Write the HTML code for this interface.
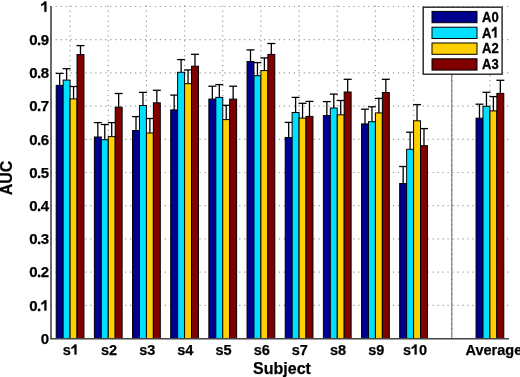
<!DOCTYPE html>
<html><head><meta charset="utf-8"><style>
html,body{margin:0;padding:0;background:#fff;width:520px;height:377px;overflow:hidden}
svg{display:block;will-change:transform}
.g{stroke:#999;stroke-width:1.2;stroke-dasharray:1.2 3.76}
.sep{stroke:#808080;stroke-width:1.2}
.e{stroke:#000;stroke-width:1.3}
.b{stroke:#000;stroke-width:1}
.ax{stroke:#444;stroke-width:1.6}
.t{font-family:"Liberation Sans",sans-serif;font-weight:bold;font-size:14.5px;fill:#000;stroke:#000;stroke-width:0.25px}
.yt{font-family:"Liberation Sans",sans-serif;font-weight:bold;font-size:15px;letter-spacing:-0.6px;fill:#000;stroke:#000;stroke-width:0.25px}
.lg{font-family:"Liberation Sans",sans-serif;font-weight:bold;font-size:15.5px;fill:#000;stroke:#000;stroke-width:0.35px}
.one{fill:transparent;stroke:none}
.l{font-family:"Liberation Sans",sans-serif;font-weight:bold;font-size:16px;fill:#000;stroke:#000;stroke-width:0.25px}
</style></head><body>
<svg width="520" height="377" viewBox="0 0 520 377">
<line x1="451.75" y1="6.5" x2="451.75" y2="338.5" class="sep"></line>
<line x1="451.75" y1="15.72" x2="451.75" y2="338.5" stroke="#606060" stroke-width="1.2" stroke-dasharray="1.2 3.76"></line>
<line x1="50.7" y1="338.50" x2="509.0" y2="338.50" class="g"></line>
<line x1="50.7" y1="305.30" x2="509.0" y2="305.30" class="g"></line>
<line x1="50.7" y1="272.10" x2="509.0" y2="272.10" class="g"></line>
<line x1="50.7" y1="238.90" x2="509.0" y2="238.90" class="g"></line>
<line x1="50.7" y1="205.70" x2="509.0" y2="205.70" class="g"></line>
<line x1="50.7" y1="172.50" x2="509.0" y2="172.50" class="g"></line>
<line x1="50.7" y1="139.30" x2="509.0" y2="139.30" class="g"></line>
<line x1="50.7" y1="106.10" x2="509.0" y2="106.10" class="g"></line>
<line x1="50.7" y1="72.90" x2="509.0" y2="72.90" class="g"></line>
<line x1="50.7" y1="39.70" x2="509.0" y2="39.70" class="g"></line>
<line x1="50.7" y1="6.50" x2="509.0" y2="6.50" class="g"></line>
<line x1="70.08" y1="5.60" x2="70.08" y2="338.5" class="g"></line>
<line x1="108.25" y1="5.60" x2="108.25" y2="338.5" class="g"></line>
<line x1="146.42" y1="5.60" x2="146.42" y2="338.5" class="g"></line>
<line x1="184.58" y1="5.60" x2="184.58" y2="338.5" class="g"></line>
<line x1="222.75" y1="5.60" x2="222.75" y2="338.5" class="g"></line>
<line x1="260.92" y1="5.60" x2="260.92" y2="338.5" class="g"></line>
<line x1="299.08" y1="5.60" x2="299.08" y2="338.5" class="g"></line>
<line x1="337.25" y1="5.60" x2="337.25" y2="338.5" class="g"></line>
<line x1="375.42" y1="5.60" x2="375.42" y2="338.5" class="g"></line>
<line x1="413.58" y1="5.60" x2="413.58" y2="338.5" class="g"></line>
<line x1="451.75" y1="15.52" x2="451.75" y2="338.5" class="g"></line>
<line x1="489.92" y1="15.52" x2="489.92" y2="338.5" class="g"></line>
<line x1="59.67" y1="85.40" x2="59.67" y2="73.40" class="e"></line>
<line x1="55.67" y1="73.40" x2="63.67" y2="73.40" class="e"></line>
<rect x="56.20" y="85.40" width="6.94" height="253.10" fill="#00008F" class="b"></rect>
<line x1="66.61" y1="80.10" x2="66.61" y2="68.70" class="e"></line>
<line x1="62.61" y1="68.70" x2="70.61" y2="68.70" class="e"></line>
<rect x="63.14" y="80.10" width="6.94" height="258.40" fill="#00DFFF" class="b"></rect>
<line x1="73.55" y1="98.90" x2="73.55" y2="86.50" class="e"></line>
<line x1="69.55" y1="86.50" x2="77.55" y2="86.50" class="e"></line>
<rect x="70.08" y="98.90" width="6.94" height="239.60" fill="#FFCF00" class="b"></rect>
<line x1="80.49" y1="54.60" x2="80.49" y2="45.60" class="e"></line>
<line x1="76.49" y1="45.60" x2="84.49" y2="45.60" class="e"></line>
<rect x="77.02" y="54.60" width="6.94" height="283.90" fill="#800000" class="b"></rect>
<line x1="97.84" y1="137.00" x2="97.84" y2="122.60" class="e"></line>
<line x1="93.84" y1="122.60" x2="101.84" y2="122.60" class="e"></line>
<rect x="94.37" y="137.00" width="6.94" height="201.50" fill="#00008F" class="b"></rect>
<line x1="104.78" y1="139.70" x2="104.78" y2="124.50" class="e"></line>
<line x1="100.78" y1="124.50" x2="108.78" y2="124.50" class="e"></line>
<rect x="101.31" y="139.70" width="6.94" height="198.80" fill="#00DFFF" class="b"></rect>
<line x1="111.72" y1="136.60" x2="111.72" y2="122.60" class="e"></line>
<line x1="107.72" y1="122.60" x2="115.72" y2="122.60" class="e"></line>
<rect x="108.25" y="136.60" width="6.94" height="201.90" fill="#FFCF00" class="b"></rect>
<line x1="118.66" y1="107.20" x2="118.66" y2="93.50" class="e"></line>
<line x1="114.66" y1="93.50" x2="122.66" y2="93.50" class="e"></line>
<rect x="115.19" y="107.20" width="6.94" height="231.30" fill="#800000" class="b"></rect>
<line x1="136.01" y1="130.50" x2="136.01" y2="116.60" class="e"></line>
<line x1="132.01" y1="116.60" x2="140.01" y2="116.60" class="e"></line>
<rect x="132.54" y="130.50" width="6.94" height="208.00" fill="#00008F" class="b"></rect>
<line x1="142.95" y1="105.50" x2="142.95" y2="92.40" class="e"></line>
<line x1="138.95" y1="92.40" x2="146.95" y2="92.40" class="e"></line>
<rect x="139.48" y="105.50" width="6.94" height="233.00" fill="#00DFFF" class="b"></rect>
<line x1="149.89" y1="133.00" x2="149.89" y2="118.50" class="e"></line>
<line x1="145.89" y1="118.50" x2="153.89" y2="118.50" class="e"></line>
<rect x="146.42" y="133.00" width="6.94" height="205.50" fill="#FFCF00" class="b"></rect>
<line x1="156.83" y1="102.80" x2="156.83" y2="90.30" class="e"></line>
<line x1="152.83" y1="90.30" x2="160.83" y2="90.30" class="e"></line>
<rect x="153.36" y="102.80" width="6.94" height="235.70" fill="#800000" class="b"></rect>
<line x1="174.17" y1="109.90" x2="174.17" y2="95.10" class="e"></line>
<line x1="170.17" y1="95.10" x2="178.17" y2="95.10" class="e"></line>
<rect x="170.70" y="109.90" width="6.94" height="228.60" fill="#00008F" class="b"></rect>
<line x1="181.11" y1="72.30" x2="181.11" y2="59.60" class="e"></line>
<line x1="177.11" y1="59.60" x2="185.11" y2="59.60" class="e"></line>
<rect x="177.64" y="72.30" width="6.94" height="266.20" fill="#00DFFF" class="b"></rect>
<line x1="188.05" y1="83.70" x2="188.05" y2="69.90" class="e"></line>
<line x1="184.05" y1="69.90" x2="192.05" y2="69.90" class="e"></line>
<rect x="184.58" y="83.70" width="6.94" height="254.80" fill="#FFCF00" class="b"></rect>
<line x1="194.99" y1="66.20" x2="194.99" y2="54.30" class="e"></line>
<line x1="190.99" y1="54.30" x2="198.99" y2="54.30" class="e"></line>
<rect x="191.52" y="66.20" width="6.94" height="272.30" fill="#800000" class="b"></rect>
<line x1="212.34" y1="99.10" x2="212.34" y2="86.20" class="e"></line>
<line x1="208.34" y1="86.20" x2="216.34" y2="86.20" class="e"></line>
<rect x="208.87" y="99.10" width="6.94" height="239.40" fill="#00008F" class="b"></rect>
<line x1="219.28" y1="97.40" x2="219.28" y2="84.60" class="e"></line>
<line x1="215.28" y1="84.60" x2="223.28" y2="84.60" class="e"></line>
<rect x="215.81" y="97.40" width="6.94" height="241.10" fill="#00DFFF" class="b"></rect>
<line x1="226.22" y1="119.60" x2="226.22" y2="105.30" class="e"></line>
<line x1="222.22" y1="105.30" x2="230.22" y2="105.30" class="e"></line>
<rect x="222.75" y="119.60" width="6.94" height="218.90" fill="#FFCF00" class="b"></rect>
<line x1="233.16" y1="99.10" x2="233.16" y2="86.20" class="e"></line>
<line x1="229.16" y1="86.20" x2="237.16" y2="86.20" class="e"></line>
<rect x="229.69" y="99.10" width="6.94" height="239.40" fill="#800000" class="b"></rect>
<line x1="250.51" y1="61.50" x2="250.51" y2="49.90" class="e"></line>
<line x1="246.51" y1="49.90" x2="254.51" y2="49.90" class="e"></line>
<rect x="247.04" y="61.50" width="6.94" height="277.00" fill="#00008F" class="b"></rect>
<line x1="257.45" y1="75.70" x2="257.45" y2="62.60" class="e"></line>
<line x1="253.45" y1="62.60" x2="261.45" y2="62.60" class="e"></line>
<rect x="253.98" y="75.70" width="6.94" height="262.80" fill="#00DFFF" class="b"></rect>
<line x1="264.39" y1="70.60" x2="264.39" y2="57.90" class="e"></line>
<line x1="260.39" y1="57.90" x2="268.39" y2="57.90" class="e"></line>
<rect x="260.92" y="70.60" width="6.94" height="267.90" fill="#FFCF00" class="b"></rect>
<line x1="271.33" y1="54.40" x2="271.33" y2="43.50" class="e"></line>
<line x1="267.33" y1="43.50" x2="275.33" y2="43.50" class="e"></line>
<rect x="267.86" y="54.40" width="6.94" height="284.10" fill="#800000" class="b"></rect>
<line x1="288.67" y1="137.50" x2="288.67" y2="122.40" class="e"></line>
<line x1="284.67" y1="122.40" x2="292.67" y2="122.40" class="e"></line>
<rect x="285.20" y="137.50" width="6.94" height="201.00" fill="#00008F" class="b"></rect>
<line x1="295.61" y1="112.50" x2="295.61" y2="97.40" class="e"></line>
<line x1="291.61" y1="97.40" x2="299.61" y2="97.40" class="e"></line>
<rect x="292.14" y="112.50" width="6.94" height="226.00" fill="#00DFFF" class="b"></rect>
<line x1="302.55" y1="118.10" x2="302.55" y2="103.30" class="e"></line>
<line x1="298.55" y1="103.30" x2="306.55" y2="103.30" class="e"></line>
<rect x="299.08" y="118.10" width="6.94" height="220.40" fill="#FFCF00" class="b"></rect>
<line x1="309.49" y1="116.40" x2="309.49" y2="101.40" class="e"></line>
<line x1="305.49" y1="101.40" x2="313.49" y2="101.40" class="e"></line>
<rect x="306.02" y="116.40" width="6.94" height="222.10" fill="#800000" class="b"></rect>
<line x1="326.84" y1="115.60" x2="326.84" y2="101.60" class="e"></line>
<line x1="322.84" y1="101.60" x2="330.84" y2="101.60" class="e"></line>
<rect x="323.37" y="115.60" width="6.94" height="222.90" fill="#00008F" class="b"></rect>
<line x1="333.78" y1="108.00" x2="333.78" y2="94.10" class="e"></line>
<line x1="329.78" y1="94.10" x2="337.78" y2="94.10" class="e"></line>
<rect x="330.31" y="108.00" width="6.94" height="230.50" fill="#00DFFF" class="b"></rect>
<line x1="340.72" y1="114.80" x2="340.72" y2="100.50" class="e"></line>
<line x1="336.72" y1="100.50" x2="344.72" y2="100.50" class="e"></line>
<rect x="337.25" y="114.80" width="6.94" height="223.70" fill="#FFCF00" class="b"></rect>
<line x1="347.66" y1="92.00" x2="347.66" y2="79.30" class="e"></line>
<line x1="343.66" y1="79.30" x2="351.66" y2="79.30" class="e"></line>
<rect x="344.19" y="92.00" width="6.94" height="246.50" fill="#800000" class="b"></rect>
<line x1="365.01" y1="123.90" x2="365.01" y2="109.20" class="e"></line>
<line x1="361.01" y1="109.20" x2="369.01" y2="109.20" class="e"></line>
<rect x="361.54" y="123.90" width="6.94" height="214.60" fill="#00008F" class="b"></rect>
<line x1="371.95" y1="121.70" x2="371.95" y2="106.80" class="e"></line>
<line x1="367.95" y1="106.80" x2="375.95" y2="106.80" class="e"></line>
<rect x="368.48" y="121.70" width="6.94" height="216.80" fill="#00DFFF" class="b"></rect>
<line x1="378.89" y1="112.90" x2="378.89" y2="98.40" class="e"></line>
<line x1="374.89" y1="98.40" x2="382.89" y2="98.40" class="e"></line>
<rect x="375.42" y="112.90" width="6.94" height="225.60" fill="#FFCF00" class="b"></rect>
<line x1="385.83" y1="92.50" x2="385.83" y2="79.30" class="e"></line>
<line x1="381.83" y1="79.30" x2="389.83" y2="79.30" class="e"></line>
<rect x="382.36" y="92.50" width="6.94" height="246.00" fill="#800000" class="b"></rect>
<line x1="403.17" y1="183.50" x2="403.17" y2="166.50" class="e"></line>
<line x1="399.17" y1="166.50" x2="407.17" y2="166.50" class="e"></line>
<rect x="399.70" y="183.50" width="6.94" height="155.00" fill="#00008F" class="b"></rect>
<line x1="410.11" y1="149.30" x2="410.11" y2="132.20" class="e"></line>
<line x1="406.11" y1="132.20" x2="414.11" y2="132.20" class="e"></line>
<rect x="406.64" y="149.30" width="6.94" height="189.20" fill="#00DFFF" class="b"></rect>
<line x1="417.05" y1="120.80" x2="417.05" y2="104.60" class="e"></line>
<line x1="413.05" y1="104.60" x2="421.05" y2="104.60" class="e"></line>
<rect x="413.58" y="120.80" width="6.94" height="217.70" fill="#FFCF00" class="b"></rect>
<line x1="423.99" y1="145.70" x2="423.99" y2="128.60" class="e"></line>
<line x1="419.99" y1="128.60" x2="427.99" y2="128.60" class="e"></line>
<rect x="420.52" y="145.70" width="6.94" height="192.80" fill="#800000" class="b"></rect>
<line x1="479.51" y1="118.20" x2="479.51" y2="104.20" class="e"></line>
<line x1="475.51" y1="104.20" x2="483.51" y2="104.20" class="e"></line>
<rect x="476.04" y="118.20" width="6.94" height="220.30" fill="#00008F" class="b"></rect>
<line x1="486.45" y1="106.30" x2="486.45" y2="92.30" class="e"></line>
<line x1="482.45" y1="92.30" x2="490.45" y2="92.30" class="e"></line>
<rect x="482.98" y="106.30" width="6.94" height="232.20" fill="#00DFFF" class="b"></rect>
<line x1="493.39" y1="110.90" x2="493.39" y2="96.60" class="e"></line>
<line x1="489.39" y1="96.60" x2="497.39" y2="96.60" class="e"></line>
<rect x="489.92" y="110.90" width="6.94" height="227.60" fill="#FFCF00" class="b"></rect>
<line x1="500.33" y1="93.40" x2="500.33" y2="80.30" class="e"></line>
<line x1="496.33" y1="80.30" x2="504.33" y2="80.30" class="e"></line>
<rect x="496.86" y="93.40" width="6.94" height="245.10" fill="#800000" class="b"></rect>
<line x1="51.0" y1="6.0" x2="51.0" y2="339.0" class="ax"></line>
<line x1="50.2" y1="338.8" x2="509.0" y2="338.8" class="ax"></line>
<text x="48.4" y="343.80" text-anchor="end" class="yt">0</text>
<text x="48.4" y="310.60" text-anchor="end" class="yt">0.<tspan class="one">1</tspan></text>
<text x="48.4" y="277.40" text-anchor="end" class="yt">0.2</text>
<text x="48.4" y="244.20" text-anchor="end" class="yt">0.3</text>
<text x="48.4" y="211.00" text-anchor="end" class="yt">0.4</text>
<text x="48.4" y="177.80" text-anchor="end" class="yt">0.5</text>
<text x="48.4" y="144.60" text-anchor="end" class="yt">0.6</text>
<text x="48.4" y="111.40" text-anchor="end" class="yt">0.7</text>
<text x="48.4" y="78.20" text-anchor="end" class="yt">0.8</text>
<text x="48.4" y="45.00" text-anchor="end" class="yt">0.9</text>
<text x="48.4" y="11.80" text-anchor="end" class="yt"><tspan class="one">1</tspan></text>
<text x="70.88" y="354.6" text-anchor="middle" class="t">s<tspan class="one">1</tspan></text>
<text x="109.05" y="354.6" text-anchor="middle" class="t">s2</text>
<text x="147.22" y="354.6" text-anchor="middle" class="t">s3</text>
<text x="185.38" y="354.6" text-anchor="middle" class="t">s4</text>
<text x="223.55" y="354.6" text-anchor="middle" class="t">s5</text>
<text x="261.72" y="354.6" text-anchor="middle" class="t">s6</text>
<text x="299.88" y="354.6" text-anchor="middle" class="t">s7</text>
<text x="338.05" y="354.6" text-anchor="middle" class="t">s8</text>
<text x="376.22" y="354.6" text-anchor="middle" class="t">s9</text>
<text x="415.08" y="354.6" text-anchor="middle" class="t">s<tspan class="one">1</tspan>0</text>
<text x="493.92" y="354.6" text-anchor="middle" class="t">Average</text>
<text x="282" y="373.8" text-anchor="middle" class="l">Subject</text>
<text transform="translate(12 178) rotate(-90)" text-anchor="middle" class="l">AUC</text>
<rect x="423.2" y="7.2" width="78.9" height="67" fill="#fff" stroke="#222" stroke-width="1.4"></rect>
<rect x="432" y="11.40" width="45" height="11.3" fill="#00008F" stroke="#000" stroke-width="1"></rect>
<text transform="translate(482 21.80) scale(0.84 1)" class="lg">A0</text>
<rect x="432" y="27.20" width="45" height="11.3" fill="#00DFFF" stroke="#000" stroke-width="1"></rect>
<text transform="translate(482 37.60) scale(0.84 1)" class="lg">A<tspan class="one">1</tspan></text>
<rect x="432" y="43.00" width="45" height="11.3" fill="#FFCF00" stroke="#000" stroke-width="1"></rect>
<text transform="translate(482 53.40) scale(0.84 1)" class="lg">A2</text>
<rect x="432" y="58.80" width="45" height="11.3" fill="#800000" stroke="#000" stroke-width="1"></rect>
<text transform="translate(482 69.20) scale(0.84 1)" class="lg">A3</text>
<path d="M790 0L510 0L510 1040C420 950 310 884 180 841L80 808L80 1050C150 1072 226 1112 310 1176C394 1240 452 1317 484 1409L790 1409Z" transform="matrix(0.00732 0.00000 0.00000 -0.00732 40.650 310.600)" fill="#000" stroke="#000" stroke-width="34.13" stroke-linejoin="miter"></path><path d="M790 0L510 0L510 1040C420 950 310 884 180 841L80 808L80 1050C150 1072 226 1112 310 1176C394 1240 452 1317 484 1409L790 1409Z" transform="matrix(0.00732 0.00000 0.00000 -0.00732 40.650 11.800)" fill="#000" stroke="#000" stroke-width="34.13" stroke-linejoin="miter"></path><path d="M790 0L510 0L510 1040C420 950 310 884 180 841L80 808L80 1050C150 1072 226 1112 310 1176C394 1240 452 1317 484 1409L790 1409Z" transform="matrix(0.00708 0.00000 0.00000 -0.00708 70.880 354.600)" fill="#000" stroke="#000" stroke-width="35.31" stroke-linejoin="miter"></path><path d="M790 0L510 0L510 1040C420 950 310 884 180 841L80 808L80 1050C150 1072 226 1112 310 1176C394 1240 452 1317 484 1409L790 1409Z" transform="matrix(0.00708 0.00000 0.00000 -0.00708 411.041 354.600)" fill="#000" stroke="#000" stroke-width="35.31" stroke-linejoin="miter"></path><path d="M790 0L510 0L510 1040C420 950 310 884 180 841L80 808L80 1050C150 1072 226 1112 310 1176C394 1240 452 1317 484 1409L790 1409Z" transform="matrix(0.00636 0.00000 0.00000 -0.00757 491.395 37.600)" fill="#000" stroke="#000" stroke-width="50.46" stroke-linejoin="miter"></path></svg></body></html>
